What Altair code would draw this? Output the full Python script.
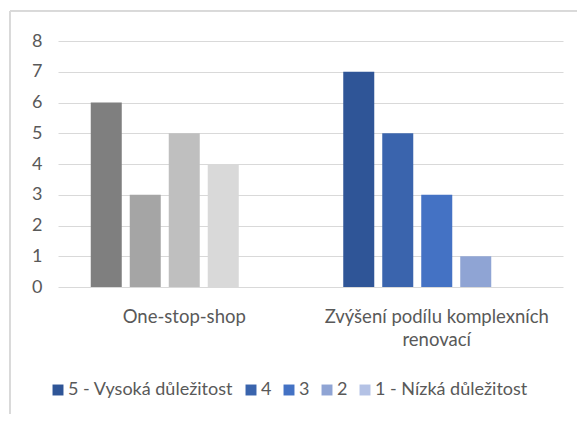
import altair as alt
import pandas as pd

groups = ["One-stop-shop", "Zvýšení podílu komplexních renovací"]
series = ["5 - Vysoká důležitost", "4", "3", "2", "1 - Nízká důležitost"]
values_oss = [6, 3, 5, 4, 0]
values_zpk = [7, 5, 3, 1, 0]
gray_colors = ["#7F7F7F", "#A5A5A5", "#BFBFBF", "#D9D9D9", "#EDEDED"]
blue_colors = ["#2F5597", "#3A64AD", "#4472C4", "#8FA4D4", "#B4C2E5"]

rows = []
for s, v, c in zip(series, values_oss, gray_colors):
    rows.append({"group": groups[0], "series": s, "value": v, "fill": c})
for s, v, c in zip(series, values_zpk, blue_colors):
    rows.append({"group": groups[1], "series": s, "value": v, "fill": c})
df = pd.DataFrame(rows)

font = "Lato"
txt = "#595959"

x_enc = alt.X("group:N", sort=groups, title=None,
              scale=alt.Scale(paddingInner=0, paddingOuter=0),
              axis=alt.Axis(labelAngle=0, domain=False, ticks=False, labelPadding=20,
                            labelFont=font, labelFontSize=18.5, labelColor=txt,
                            labelLineHeight=23, labelLimit=400,
                            labelExpr="datum.label == 'Zvýšení podílu komplexních renovací' ? ['Zvýšení podílu komplexních', 'renovací'] : datum.label"))
xo_enc = alt.XOffset("series:N", sort=series,
                     scale=alt.Scale(paddingInner=0.205, paddingOuter=0.84))
y_enc = alt.Y("value:Q", title=None,
              scale=alt.Scale(domain=[0, 8], nice=False),
              axis=alt.Axis(values=list(range(0, 9)), domain=False, ticks=False,
                            labelPadding=16, labelFont=font, labelFontSize=18,
                            labelColor=txt, gridColor="#D9D9D9", gridWidth=1,
                            labelOverlap=False))

bars = alt.Chart(df).mark_bar().encode(
    x=x_enc, xOffset=xo_enc, y=y_enc,
    fill=alt.Fill("fill:N", scale=None),
)

leg = alt.Chart(df).mark_square(opacity=0).encode(
    x=x_enc, xOffset=xo_enc, y=y_enc,
    color=alt.Color("series:N", sort=series,
                    scale=alt.Scale(domain=series, range=blue_colors),
                    legend=alt.Legend(title=None, orient="none", direction="horizontal",
                                      legendX=-9, legendY=340, symbolType="square",
                                      symbolSize=120, symbolOpacity=1, symbolStrokeWidth=0,
                                      labelFont=font, labelFontSize=18, labelColor=txt,
                                      labelOffset=1, columnPadding=8, labelLimit=300,
                                      gridAlign="none")),
)

frame = alt.Chart(df).mark_rule(color="#D9D9D9", strokeWidth=1).encode(
    x=alt.value(-48), y=alt.value(-30), y2=alt.value(400)
) + alt.Chart(df).mark_rule(color="#D9D9D9", strokeWidth=1).encode(
    x=alt.value(-48), x2=alt.value(519), y=alt.value(-30)
)

chart = alt.layer(frame, bars, leg).properties(
    width=505, height=246,
    autosize=alt.AutoSizeParams(type="none"),
    padding={"left": 50, "top": 33, "right": 14, "bottom": 127},
).configure_view(stroke=None)

chart.save("out.html", embed_options={"renderer": "svg", "actions": False})
